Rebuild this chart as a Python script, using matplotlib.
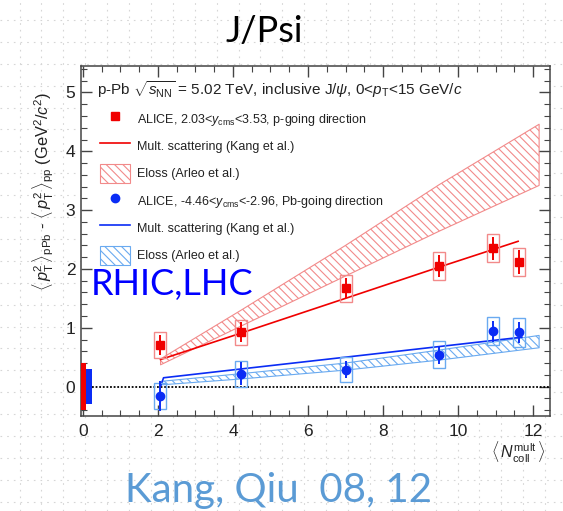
import matplotlib
matplotlib.use("Agg")
import matplotlib.pyplot as plt
from matplotlib.patches import Rectangle, Patch
from matplotlib.lines import Line2D
from matplotlib.ticker import MultipleLocator
import numpy as np

plt.rcParams["font.family"] = ["Liberation Sans", "DejaVu Sans"]
plt.rcParams["mathtext.fontset"] = "custom"
plt.rcParams["mathtext.rm"] = "Liberation Sans"
plt.rcParams["mathtext.it"] = "Liberation Sans:italic"
plt.rcParams["mathtext.bf"] = "Liberation Sans:bold"
plt.rcParams["hatch.linewidth"] = 0.8

# ---- data: <pT^2> broadening vs <Ncoll^mult> ----
ncoll = [2.05, 4.22, 7.0, 9.49, 10.93, 11.63]

fwd_val = [0.70, 0.92, 1.67, 2.05, 2.35, 2.12]      # p-going (2.03<y<3.53)
fwd_stat = [0.17, 0.17, 0.17, 0.18, 0.20, 0.20]
fwd_syst = [0.22, 0.22, 0.23, 0.23, 0.24, 0.24]

bwd_val = [-0.16, 0.22, 0.29, 0.54, 0.94, 0.92]     # Pb-going (-4.46<y<-2.96)
bwd_stat = [0.25, 0.20, 0.15, 0.15, 0.18, 0.18]
bwd_syst = [0.22, 0.22, 0.22, 0.23, 0.24, 0.24]

# global (correlated) uncertainties drawn at x = 0
fwd_global = 0.40
bwd_global = 0.30

# multiple scattering calculation (Kang et al.)
ms_fwd_x = [2.07, 4.22, 7.0, 9.49, 11.6]
ms_fwd_y = [0.46, 0.91, 1.50, 2.03, 2.47]
ms_bwd_x = [2.08, 2.15, 4.22, 7.0, 9.49, 11.7]
ms_bwd_y = [0.02, 0.15, 0.30, 0.50, 0.68, 0.84]

# energy loss band (Arleo et al.)
el_fwd_x = [2.07, 4.22, 7.0, 9.49, 12.16]
el_fwd_lo = [0.37, 1.03, 1.88, 2.64, 3.42]
el_fwd_hi = [0.47, 1.30, 2.40, 3.43, 4.46]
el_bwd_x = [2.1, 4.22, 7.0, 9.49, 12.16]
el_bwd_lo = [0.03, 0.13, 0.28, 0.45, 0.66]
el_bwd_hi = [0.09, 0.22, 0.40, 0.62, 0.87]

RED = "#f00000"
BLUE = "#0a2cf5"
RED_LIGHT = "#f28a8a"
BLUE_LIGHT = "#6aaaf0"

W, H = 563, 511
fig = plt.figure(figsize=(W / 100, H / 100), dpi=100)

def fx(px):
    return px / W

def fy(py):
    return 1 - py / H

# slide background with dotted guide grid
bg = fig.add_axes([0, 0, 1, 1], zorder=-5)
bg.set_xlim(0, W)
bg.set_ylim(H, 0)
bg.axis("off")
for gx in np.arange(19.5, W, 21.9):
    bg.axvline(gx, color="#d6d6d6", lw=0.8, ls=(0, (1.5, 4.5)))
for gy in np.arange(20, H, 21.9):
    bg.axhline(gy, color="#d6d6d6", lw=0.8, ls=(0, (1.5, 4.5)))
bg.add_patch(Rectangle((14, 58), 539, 400, facecolor="white", edgecolor="none"))

# main plot
ax = fig.add_axes([fx(81), fy(416), fx(550) - fx(81), fy(66) - fy(416)])
ax.set_xlim(-0.05, 12.45)
ax.set_ylim(-0.5, 5.45)

# global uncertainty bars
ax.add_patch(Rectangle((-0.08, -fwd_global), 0.16, 2 * fwd_global,
                       facecolor=RED, edgecolor="none", zorder=3))
ax.add_patch(Rectangle((0.08, -bwd_global), 0.16, 2 * bwd_global,
                       facecolor=BLUE, edgecolor="none", zorder=3))

# zero reference
ax.plot([0.24, 12.45], [0, 0], color="black", lw=1.3, ls=(0, (1, 1)), zorder=2)

# Eloss bands
ax.fill_between(el_fwd_x, el_fwd_lo, el_fwd_hi, facecolor="none",
                edgecolor=RED_LIGHT, hatch="\\\\\\\\", lw=0.8, zorder=1)
ax.fill_between(el_bwd_x, el_bwd_lo, el_bwd_hi, facecolor="none",
                edgecolor=BLUE_LIGHT, hatch="\\\\\\\\", lw=0.8, zorder=1)

# multiple scattering curves
ax.plot(ms_fwd_x, ms_fwd_y, color=RED, lw=1.2, zorder=2)
ax.plot(ms_bwd_x, ms_bwd_y, color=BLUE, lw=1.2, zorder=2)

# data with systematic boxes
half_w = 0.16
for xs, vals, stat, syst, col, light, mk in [
        (ncoll, fwd_val, fwd_stat, fwd_syst, RED, RED_LIGHT, "s"),
        (ncoll, bwd_val, bwd_stat, bwd_syst, BLUE, BLUE_LIGHT, "o")]:
    for x, v, s in zip(xs, vals, syst):
        ax.add_patch(Rectangle((x - half_w, v - s), 2 * half_w, 2 * s,
                               facecolor="none", edgecolor=light, lw=1.0, zorder=3))
    ax.errorbar(xs, vals, yerr=stat, fmt=mk, color=col, ms=6, lw=1.4,
                capsize=0, zorder=4)

# axes styling
ax.xaxis.set_major_locator(MultipleLocator(2))
ax.xaxis.set_minor_locator(MultipleLocator(0.5))
ax.yaxis.set_major_locator(MultipleLocator(1))
ax.yaxis.set_minor_locator(MultipleLocator(0.2))
ax.tick_params(which="both", direction="in", top=True, right=True,
               colors="#444444", labelcolor="#222222", labelsize=12.5)
ax.tick_params(which="major", length=8, width=1.0)
ax.tick_params(which="minor", length=4, width=0.8)
ax.tick_params(axis="x", pad=6)
ax.tick_params(axis="y", pad=4)
for sp in ax.spines.values():
    sp.set_color("#444444")
    sp.set_linewidth(1.1)

# header
ax.text(fx(97), fy(95),
        r"p-Pb $\sqrt{s_{\rm NN}}$ = 5.02 TeV, inclusive J/$\psi$, 0<$p_{\rm T}$<15 GeV/$c$",
        transform=fig.transFigure, fontsize=11, color="#222222", ha="left", va="baseline")

# legend
handles = [
    Line2D([], [], ls="none", marker="s", color=RED, ms=6),
    Line2D([], [], color=RED, lw=1.2),
    Patch(facecolor="none", edgecolor=RED_LIGHT, hatch="\\\\\\\\", lw=0.8),
    Line2D([], [], ls="none", marker="o", color=BLUE, ms=6),
    Line2D([], [], color=BLUE, lw=1.2),
    Patch(facecolor="none", edgecolor=BLUE_LIGHT, hatch="\\\\\\\\", lw=0.8),
]
labels = [
    r"ALICE, 2.03<$y_{\rm cms}$<3.53, p-going direction",
    "Mult. scattering (Kang et al.)",
    "Eloss (Arleo et al.)",
    r"ALICE, -4.46<$y_{\rm cms}$<-2.96, Pb-going direction",
    "Mult. scattering (Kang et al.)",
    "Eloss (Arleo et al.)",
]
leg = ax.legend(handles, labels, loc="upper left",
                bbox_to_anchor=(fx(100), fy(109)), bbox_transform=fig.transFigure,
                frameon=False, fontsize=9, handlelength=2.4, handleheight=2.0,
                handletextpad=0.55, labelspacing=0.64, borderpad=0, borderaxespad=0)
for t in leg.get_texts():
    t.set_color("#222222")

# axis titles
fig.text(fx(43), fy(192),
         r"$\langle\, p_{\rm T}^{2}\,\rangle_{\rm pPb}$ - $\langle\, p_{\rm T}^{2}\,\rangle_{\rm pp}$ (GeV$^{2}$/$c^{2}$)",
         rotation=90, ha="center", va="center", fontsize=11.8, color="#222222")
fig.text(fx(518), fy(452), r"$\langle\, N_{\rm coll}^{\rm mult}\,\rangle$",
         ha="center", va="center", fontsize=11.5, color="#222222")

# slide annotations
fig.text(fx(264), fy(42), "J/Psi", family=["Lato", "DejaVu Sans"], fontsize=26,
         ha="center", va="baseline", color="black")
fig.text(fx(91), fy(295), "RHIC,LHC", family=["Lato", "DejaVu Sans"], fontsize=26,
         ha="left", va="baseline", color="#0000ff")
fig.text(fx(279), fy(502), "Kang, Qiu  08, 12", family=["Lato", "DejaVu Sans"],
         fontsize=29, ha="center", va="baseline", color="#5b9bd5")

fig.savefig("out.png", dpi=100)
